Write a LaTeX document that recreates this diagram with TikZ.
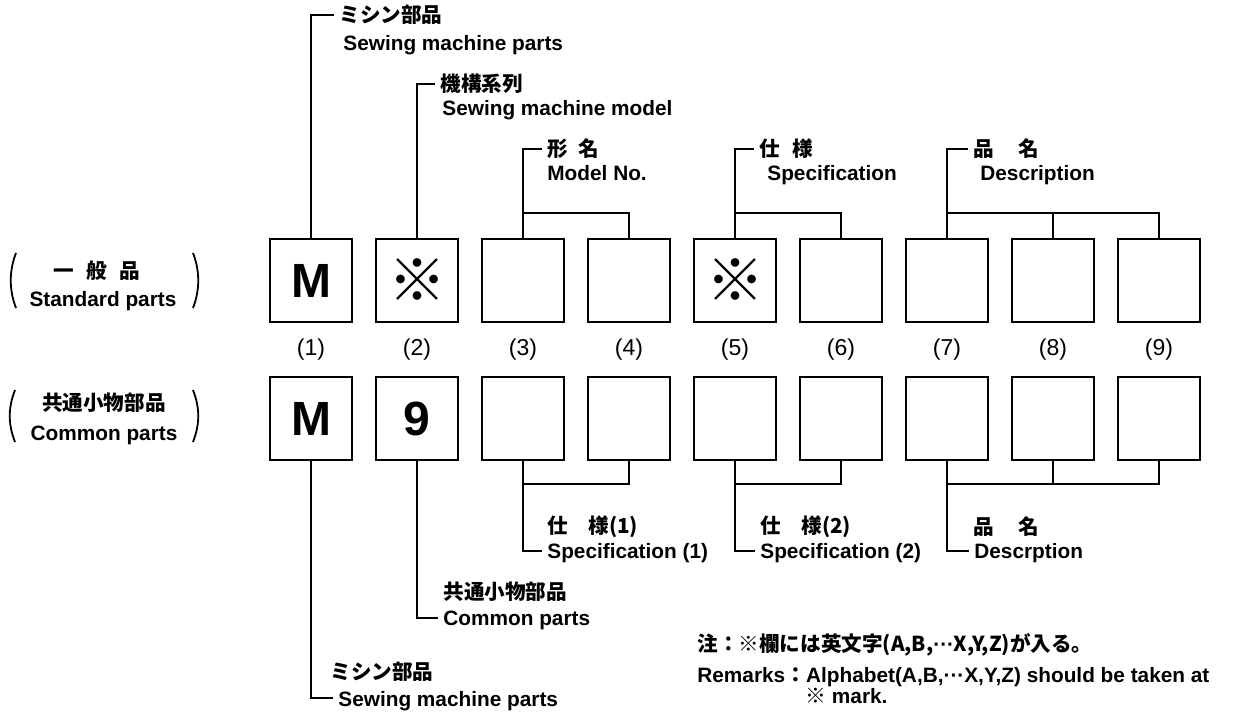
\documentclass[tikz,border=0pt]{standalone}
\usepackage{fontspec}
\setmainfont{Liberation Sans}
\newfontfamily\jp{Noto Sans CJK JP}
\begin{document}
\begin{tikzpicture}[x=0.5pt,y=-0.5pt,
	cell/.style={draw,line width=1pt,minimum width=41pt,minimum height=41.5pt,inner sep=0pt},
	big/.style={font=\fontsize{24}{24}\selectfont\bfseries},
	kome/.style={font=\jp\fontsize{29}{29}\selectfont},
	en/.style={anchor=base west,inner sep=0pt,font=\fontsize{10.4}{12}\selectfont\bfseries},
	ja/.style={anchor=west,inner sep=0pt,font=\jp\fontsize{10.3}{12}\selectfont\bfseries},
	num/.style={font=\fontsize{11.5}{12}\selectfont},
	link/.style={line width=0.8pt},
	paren/.style={line width=0.9pt}]
	\useasboundingbox (0,0) rectangle (1239,713);
	% two rows of boxes
	\foreach \i in {1,...,9}{
		\node[cell] (t\i) at ({311+106*(\i-1)},280.5) {};
		\node[num] (n\i) at ({311+106*(\i-1)},350) {(\i)};
		\node[cell] (b\i) at ({311+106*(\i-1)},418.5) {};
	}
	\node[big] (m1) at (t1) {M};
	\node[kome] (k2) at (t2) {※};
	\node[kome] (k5) at (t5) {※};
	\node[big] (m2) at (b1) {M};
	\node[big] (g2) at (b2) {9};
	% row titles
	\node[ja,anchor=center] (stdj) at (97,271) {一\hspace{0.6em}般\hspace{0.6em}品};
	\node[en,anchor=center] (stde) at (103,301) {Standard parts};
	\draw[paren] (16,253) .. controls (9,271) and (9,290) .. (16,308);
	\draw[paren] (193,253) .. controls (200,271) and (200,290) .. (193,308);
	\node[ja,anchor=center] (comj) at (104,403) {共通小物部品};
	\node[en,anchor=center] (come) at (104,435) {Common parts};
	\draw[paren] (15,390) .. controls (8,408) and (8,424) .. (15,442);
	\draw[paren] (193,390) .. controls (200,408) and (200,424) .. (193,442);
	% upper labels
	\node[ja] (jp1) at (339,15) {ミシン部品};
	\node[en] (en1) at (343,50) {Sewing machine parts};
	\draw[link] (t1.north) |- ([xshift=-2.5pt]jp1.west);
	\node[ja] (jp2) at (440,84) {機構系列};
	\node[en] (en2) at (442,115) {Sewing machine model};
	\draw[link] (t2.north) |- ([xshift=-2.5pt]jp2.west);
	\node[ja] (jp3) at (547,149) {形\hspace{0.5em}名};
	\node[en] (en3) at (547,180) {Model No.};
	\coordinate (k3) at ([yshift=12.5pt]t3.north);
	\draw[link] (t3.north) |- ([xshift=-2.5pt]jp3.west);
	\draw[link] (t4.north) |- (k3);
	\node[ja] (jp5) at (759,149) {仕\hspace{0.6em}様};
	\node[en] (en5) at (767,180) {Specification};
	\coordinate (k5) at ([yshift=12.5pt]t5.north);
	\draw[link] (t5.north) |- ([xshift=-2.5pt]jp5.west);
	\draw[link] (t6.north) |- (k5);
	\node[ja] (jp7) at (973,149) {品\hspace{1.2em}名};
	\node[en] (en7) at (980,180) {Description};
	\coordinate (k7) at ([yshift=12.5pt]t7.north);
	\draw[link] (t7.north) |- ([xshift=-2.5pt]jp7.west);
	\draw[link] (t9.north) |- (k7);
	\draw[link] (t8.north) -- (t8.north |- k7);
	% lower labels
	\node[ja] (bj1) at (330,672) {ミシン部品};
	\node[en] (be1) at (338,706) {Sewing machine parts};
	\draw[link] (b1.south) |- ([shift={(-5,-8)}]be1.base west);
	\node[ja] (bj2) at (443,592) {共通小物部品};
	\node[en] (be2) at (443,625) {Common parts};
	\draw[link] (b2.south) |- ([shift={(-5,-7)}]be2.base west);
	\node[ja] (bj3) at (547,527) {仕\hspace{1em}様(1)};
	\node[en] (be3) at (547,558) {Specification (1)};
	\coordinate (j3) at ([yshift=-11.5pt]b3.south);
	\draw[link] (b3.south) |- ([shift={(-5,-7)}]be3.base west);
	\draw[link] (b4.south) |- (j3);
	\node[ja] (bj5) at (760,527) {仕\hspace{1em}様(2)};
	\node[en] (be5) at (760,558) {Specification (2)};
	\coordinate (j5) at ([yshift=-11.5pt]b5.south);
	\draw[link] (b5.south) |- ([shift={(-5,-7)}]be5.base west);
	\draw[link] (b6.south) |- (j5);
	\node[ja] (bj7) at (973,527) {品\hspace{1.2em}名};
	\node[en] (be7) at (974,558) {Descrption};
	\coordinate (j7) at ([yshift=-11.5pt]b7.south);
	\draw[link] (b7.south) |- ([shift={(-5,-7)}]be7.base west);
	\draw[link] (b9.south) |- (j7);
	\draw[link] (b8.south) -- (b8.south |- j7);
	% remarks
	\node[ja] (nt1) at (697,645) {注：※欄には英文字(A,B,{\rmfamily ···}X,Y,Z)が入る。};
	\node[en] (nt2) at (697,682) {Remarks{\jp ：}Alphabet(A,B,···X,Y,Z) should be taken at};
	\node[en] (nt3) at (805,703) {{\jp ※} mark.};
\end{tikzpicture}
\end{document}
